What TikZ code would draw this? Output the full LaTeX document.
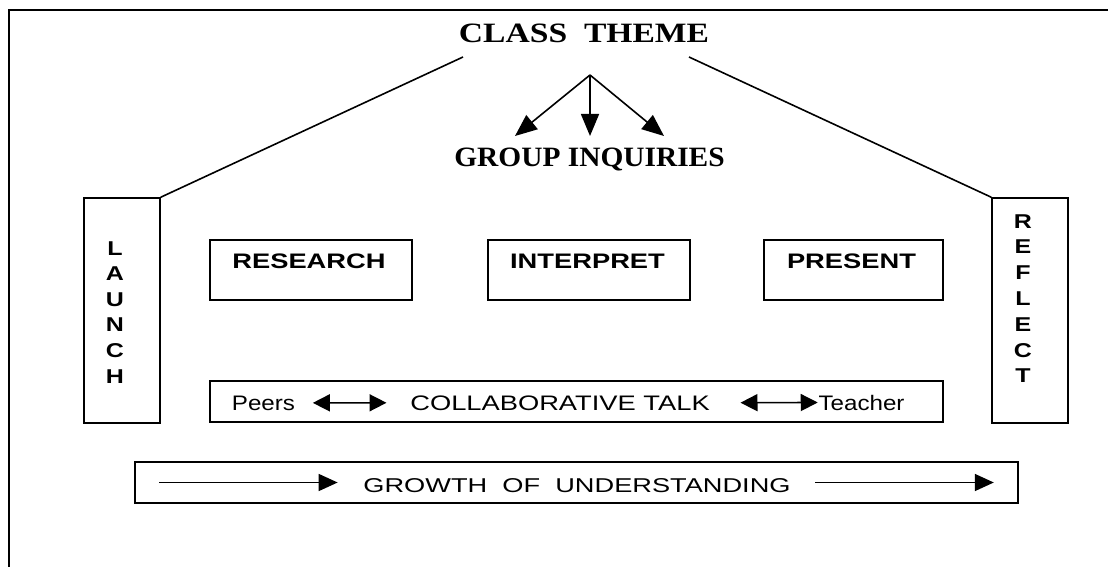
\documentclass[tikz,border=0pt]{standalone}
\usepackage{fontspec}
\setmainfont{Liberation Serif}
\setsansfont{Liberation Sans}
\usetikzlibrary{arrows.meta}

% stretch text sideways
\newcommand{\widen}[2]{\scalebox{#1}[1]{#2}}

\begin{document}
\begin{tikzpicture}[x=0.5pt,y=-0.5pt,line width=0.8pt,
    box/.style={draw,line width=0.8pt,inner sep=0pt},
    title/.style={font=\rmfamily\bfseries\fontsize{14}{16}\selectfont,anchor=base,inner sep=0pt},
    phase/.style={font=\sffamily\bfseries\fontsize{10.5}{12}\selectfont,anchor=base,inner sep=0pt},
    letter/.style={font=\sffamily\bfseries\fontsize{10}{12}\selectfont,anchor=base,inner sep=0pt},
    talk/.style={font=\sffamily\fontsize{10.5}{12}\selectfont,anchor=base,inner sep=0pt},
    fork/.style={-{Triangle[length=11pt,width=9pt]}},
    twoway/.style={{Triangle[length=8.5pt,width=8.5pt]}-{Triangle[length=8.5pt,width=8.5pt]}},
    oneway/.style={-{Triangle[length=9.5pt,width=8.5pt]}}]

    \useasboundingbox (0,0) rectangle (1108,567);

    % frame
    \draw (9,567) -- (9,10) -- (1108,10);

    % theme and inquiries
    \node[title] (theme) at (584,43) {\widen{1.2}{CLASS\ \ THEME}};
    \node[title] (inquiries) at (589.5,167) {\widen{1.05}{GROUP INQUIRIES}};

    \coordinate (fork) at (590,75);
    \foreach \dx in {-75,0,74}
        \draw[fork] (fork) -- ++(\dx,61);

    % launch and reflect
    \node[box,minimum width=38pt,minimum height=112.5pt] (launch) at (122,310.5) {};
    \node[box,minimum width=38pt,minimum height=112.5pt] (reflect) at (1030,310.5) {};
    \foreach \ch [count=\i from 0] in {L,A,U,N,C,H}
        \node[letter] (launch\i) at (115,255+25.6*\i) {\widen{1.25}{\ch}};
    \foreach \ch [count=\i from 0] in {R,E,F,L,E,C,T}
        \node[letter] (reflect\i) at (1023,228+25.8*\i) {\widen{1.25}{\ch}};

    \coordinate (roofl) at (463,57);
    \coordinate (roofr) at (689,57);
    \draw (roofl) -- (launch.north east);
    \draw (roofr) -- (reflect.north west);

    % phases
    \node[box,minimum width=101pt,minimum height=30pt] (research) at (311,270) {};
    \node[box,minimum width=101pt,minimum height=30pt] (interpret) at (589,270) {};
    \node[box,minimum width=89.5pt,minimum height=30pt] (present) at (853.5,270) {};
    \node[phase] (researchtxt) at (309,268) {\widen{1.3}{RESEARCH}};
    \node[phase] (interprettxt) at (587.5,268) {\widen{1.3}{INTERPRET}};
    \node[phase] (presenttxt) at (851.5,268) {\widen{1.3}{PRESENT}};

    % collaborative talk
    \node[box,minimum width=366.5pt,minimum height=20.5pt] (collab) at (576.5,401.5) {};
    \node[talk] (peers) at (263.5,410) {\widen{1.15}{Peers}};
    \node[talk] (talk) at (560,410) {\widen{1.3}{COLLABORATIVE TALK}};
    \node[talk] (teacher) at (861.5,410) {\widen{1.15}{Teacher}};
    \draw[twoway,shorten <=8.5pt,shorten >=11.5pt] (peers.east) -- (talk.west);
    \draw[twoway,shorten <=15pt] (talk.east) -- (teacher.west);

    % growth
    \node[box,minimum width=441.5pt,minimum height=20.5pt] (growth) at (576.5,482.5) {};
    \node[talk,font=\sffamily\fontsize{10}{12}\selectfont] (growthtxt) at (577,492)
        {\widen{1.36}{GROWTH\ \ OF\ \ UNDERSTANDING}};
    \draw[oneway,shorten <=12.5pt,shorten >=12.5pt] (growth.west) -- (growth.west -| growthtxt.west);
    \draw[oneway,shorten <=12pt,shorten >=12.5pt] (growth.east -| growthtxt.east) -- (growth.east);

\end{tikzpicture}
\end{document}
